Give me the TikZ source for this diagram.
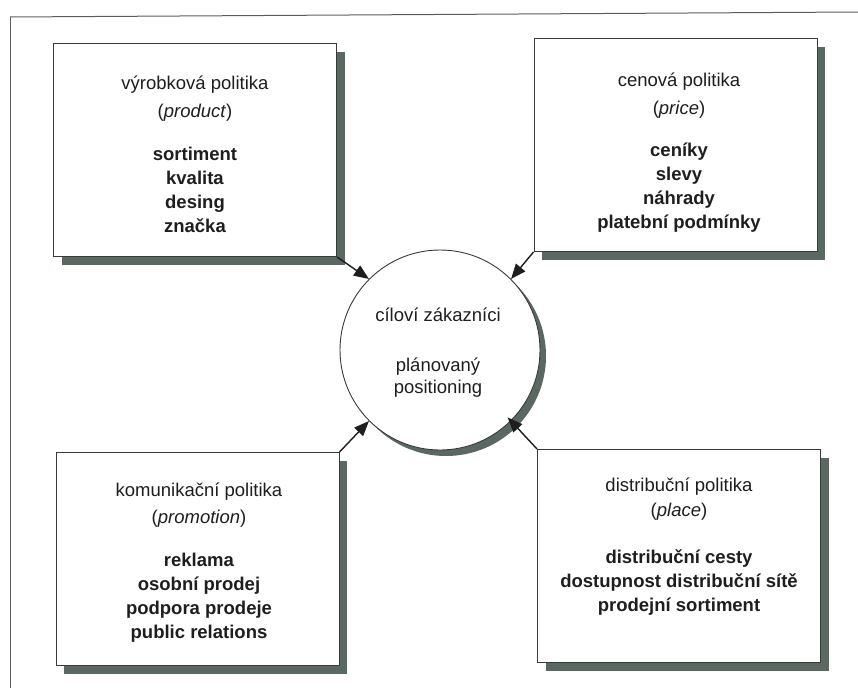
\documentclass[tikz,border=0pt]{standalone}
\usepackage{fontspec}
\setmainfont{Liberation Sans}
\usetikzlibrary{arrows.meta,shadows}
\definecolor{shade}{HTML}{5A6862}
\definecolor{ink}{HTML}{1E1E1E}
\definecolor{edge}{HTML}{3A3A3A}
\definecolor{framegray}{HTML}{5C5C5C}

\begin{document}
\begin{tikzpicture}[x=1pt,y=-1pt,
  panel/.style={rectangle, draw=edge, line width=0.9pt, fill=white, inner sep=0pt,
    minimum width=283pt, minimum height=213pt,
    drop shadow={shadow xshift=8pt, shadow yshift=-8pt, fill=shade, opacity=1}},
  hub/.style={circle, draw=edge, line width=0.9pt, fill=white, inner sep=0pt,
    minimum size=200pt,
    drop shadow={shadow xshift=6pt, shadow yshift=-6pt, fill=shade, opacity=1}},
  caption/.style={align=center, font=\fontsize{18.5}{24}\selectfont, text=ink,
    inner sep=0pt, anchor=north},
  link/.style={draw=ink, line width=1.4pt, -{Triangle[length=15pt,width=12pt]}},
  frameline/.style={draw=framegray, line width=1pt}]
\useasboundingbox (0,0) rectangle (858,688);

% outer frame (top and left edges)
\draw[frameline] (10,17) -- (858,12);
\draw[frameline] (10,17) -- (10,688);

% the four policy panels
\node[panel] (tl) at (195,150) {};
\node[panel] (tr) at (675.5,145) {};
\node[panel] (bl) at (197.5,559) {};
\node[panel] (br) at (679,556) {};

% central circle
\node[hub] (c) at (440,350) {};

% panel texts
\node[caption] (tltext) at (195,76)
  {výrobková politika\\[4pt](\textit{product})\\[19pt]\textbf{sortiment}\\\textbf{kvalita}\\\textbf{desing}\\\textbf{značka}};
\node[caption] (trtext) at (679,73)
  {cenová politika\\[4pt](\textit{price})\\[18pt]\textbf{ceníky}\\\textbf{slevy}\\\textbf{náhrady}\\\textbf{platební podmínky}};
\node[caption] (bltext) at (199,483)
  {komunikační politika\\[3pt](\textit{promotion})\\[19pt]\textbf{reklama}\\\textbf{osobní prodej}\\\textbf{podpora prodeje}\\\textbf{public relations}};
\node[caption] (brtext) at (679,478)
  {distribuční politika\\[1pt](\textit{place})\\[23pt]\textbf{distribuční cesty}\\\textbf{dostupnost distribuční sítě}\\\textbf{prodejní sortiment}};

% circle text
\node[caption] (ctext) at (438,308)
  {cíloví zákazníci\\[26pt]plánovaný\\[-2pt]positioning};

% arrows towards the centre
\draw[link] (tl.south east) -- (c.135);
\draw[link] (tr.south west) -- (c.45);
\draw[link] (bl.north east) -- (c.225);
\draw[link, shorten >=-5pt] (br.north west) -- (c.-45);
\end{tikzpicture}
\end{document}
